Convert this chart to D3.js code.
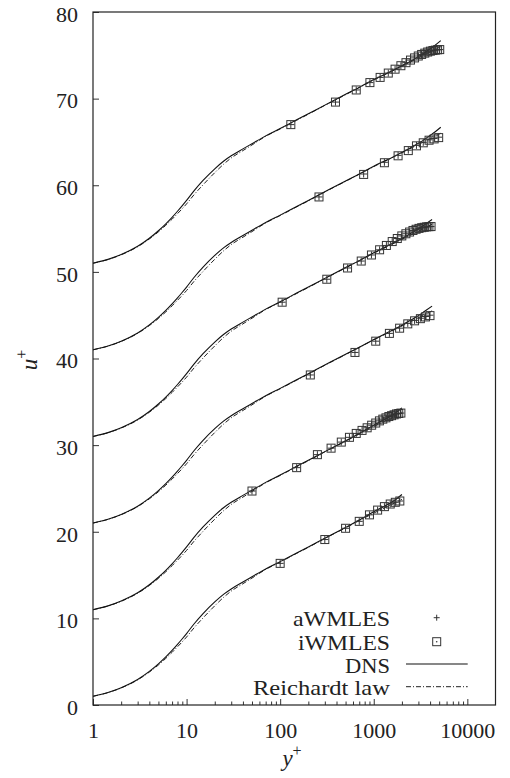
<!DOCTYPE html>
<html>
<head>
<meta charset="utf-8">
<script src="https://cdn.jsdelivr.net/npm/d3@7"></script>
<style>
  body { margin: 0; background: #fff; }
  svg text { font-family: "Liberation Serif", "Times New Roman", serif; fill: #222; }
</style>
</head>
<body>
<div id="d3"></div>
<script>
// shift added to u+ for each case (cases stacked from bottom to top)
const offsets = [0, 10, 20, 30, 40, 50];
const caseRe = [2000, 2000, 4200, 4200, 5200, 5200];

// DNS profiles, inner part shared, outer part per Re_tau
const dnsInnerY = [1, 1.5, 2, 3, 4, 5, 6, 7, 8, 9, 10, 12, 15, 20, 25, 30, 40, 50, 70, 100, 150, 200];
const dnsInnerU = [1.0, 1.5, 2.0, 2.95, 3.88, 4.75, 5.55, 6.3, 7.0, 7.65, 8.25, 9.35, 10.55, 11.9, 12.8, 13.4, 14.2, 14.8, 15.7, 16.55, 17.55, 18.25];
const dnsOuterY2000 = [300, 500, 700, 1000, 1300, 1600, 1800, 2000];
const dnsOuterU2000 = [19.25, 20.5, 21.35, 22.3, 22.95, 23.5, 23.9, 24.3];
const dnsOuterY4200 = [300, 500, 700, 1000, 1500, 2000, 2500, 3000, 3500, 4200];
const dnsOuterU4200 = [19.25, 20.5, 21.3, 22.2, 23.15, 23.85, 24.45, 24.95, 25.45, 26.05];
const dnsOuterY5200 = [300, 500, 700, 1000, 1500, 2000, 2500, 3000, 3500, 4000, 4500, 5200];
const dnsOuterU5200 = [19.25, 20.5, 21.3, 22.2, 23.1, 23.8, 24.35, 24.85, 25.3, 25.75, 26.15, 26.7];

// Reichardt law
const reiY = [1, 1.5, 2, 3, 4, 5, 6, 7, 8, 9, 10, 12, 15, 20, 25, 30, 40, 50, 70, 100, 150, 200, 300, 500, 700, 1000, 1500, 2000, 3000, 4200, 5200];
const reiU = [1.0, 1.48, 1.97, 2.9, 3.8, 4.62, 5.38, 6.08, 6.72, 7.3, 7.85, 8.9, 10.05, 11.45, 12.45, 13.15, 14.0, 14.65, 15.65, 16.5, 17.5, 18.2, 19.22, 20.45, 21.28, 22.15, 23.08, 23.75, 24.7, 25.5, 26.0];

// wall-modelled LES points (y+ and u+ without the shift)
const lesY0 = [100, 300, 500, 700, 900, 1100, 1300, 1500, 1700, 1900];
const aW0 = [16.35, 19.1, 20.4, 21.2, 21.95, 22.5, 22.9, 23.2, 23.4, 23.55];
const iW0 = [16.35, 19.1, 20.4, 21.2, 21.95, 22.5, 22.9, 23.2, 23.4, 23.55];

const lesY1 = [50, 150, 250, 350, 450, 550, 650, 750, 850, 950, 1050, 1150, 1250, 1350, 1450, 1550, 1650, 1750, 1850, 1950];
const aW1 = [14.7, 17.4, 18.9, 19.65, 20.35, 20.9, 21.35, 21.7, 22.0, 22.3, 22.55, 22.8, 23.0, 23.15, 23.3, 23.4, 23.5, 23.6, 23.65, 23.7];
const iW1 = [14.7, 17.4, 18.9, 19.65, 20.35, 20.9, 21.35, 21.7, 22.0, 22.3, 22.55, 22.8, 23.0, 23.15, 23.3, 23.4, 23.5, 23.6, 23.65, 23.7];

const lesY2 = [210, 630, 1050, 1470, 1890, 2310, 2730, 3150, 3570, 3990];
const aW2 = [18.1, 20.7, 22.0, 22.9, 23.5, 24.05, 24.4, 24.65, 24.85, 25.0];
const iW2 = [18.1, 20.7, 22.0, 22.9, 23.5, 24.0, 24.35, 24.6, 24.8, 24.95];

const lesY3 = [105, 315, 525, 735, 945, 1155, 1365, 1575, 1785, 1995, 2205, 2415, 2625, 2835, 3045, 3255, 3465, 3675, 3885, 4095];
const aW3 = [16.5, 19.15, 20.45, 21.25, 21.95, 22.55, 23.05, 23.5, 23.85, 24.15, 24.4, 24.6, 24.78, 24.92, 25.02, 25.1, 25.15, 25.2, 25.22, 25.23];
const iW3 = [16.5, 19.15, 20.45, 21.25, 21.95, 22.55, 23.05, 23.5, 23.85, 24.15, 24.4, 24.6, 24.78, 24.92, 25.02, 25.1, 25.15, 25.2, 25.22, 25.23];

const lesY4 = [260, 780, 1300, 1820, 2340, 2860, 3380, 3900, 4420, 4940];
const aW4 = [18.65, 21.3, 22.65, 23.45, 24.05, 24.6, 24.95, 25.25, 25.4, 25.55];
const iW4 = [18.65, 21.25, 22.6, 23.4, 24.0, 24.55, 24.9, 25.2, 25.35, 25.5];

const lesY5 = [130, 390, 650, 910, 1170, 1430, 1690, 1950, 2210, 2470, 2730, 2990, 3250, 3510, 3770, 4030, 4290, 4550, 4810, 5070];
const aW5 = [17.0, 19.6, 21.0, 21.85, 22.45, 22.95, 23.4, 23.8, 24.15, 24.45, 24.7, 24.92, 25.1, 25.25, 25.38, 25.48, 25.55, 25.6, 25.64, 25.66];
const iW5 = [17.0, 19.6, 21.0, 21.85, 22.45, 22.95, 23.4, 23.8, 24.15, 24.45, 24.7, 24.92, 25.1, 25.25, 25.38, 25.48, 25.55, 25.6, 25.64, 25.66];

const xTicks = [1, 10, 100, 1000, 10000];
const yTicks = [0, 10, 20, 30, 40, 50, 60, 70, 80];
const legendNames = ["aWMLES", "iWMLES", "DNS", "Reichardt law"];


const dnsOuter = {
    2000: [dnsOuterY2000, dnsOuterU2000],
    4200: [dnsOuterY4200, dnsOuterU4200],
    5200: [dnsOuterY5200, dnsOuterU5200]
};
const lesCases = [[lesY0, aW0, iW0], [lesY1, aW1, iW1], [lesY2, aW2, iW2],
                  [lesY3, aW3, iW3], [lesY4, aW4, iW4], [lesY5, aW5, iW5]];

const zip = (a, b) => a.map((v, i) => [v, b[i]]);

function drawChart() {
    const svg = d3.select("#d3")
        .append("svg")
        .attr("width", 510)
        .attr("height", 778)
        .attr("font-family", "Liberation Serif, serif");

    const x = d3.scaleLog().domain([1, 20000]).range([93, 495.5]);
    const y = d3.scaleLinear().domain([0, 80]).range([705, 12]);

    // bottom axis, ticks pointing inwards
    const minor = [];
    for (let p = 1; p <= 1000; p *= 10) for (let m = 2; m <= 9; m++) minor.push(m * p);

    svg.append("g")
        .attr("transform", "translate(0,705)")
        .call(d3.axisBottom(x).tickValues(minor).tickSize(-3.5).tickFormat(""))
        .call(g => g.select(".domain").remove())
        .call(g => g.selectAll("line").attr("stroke", "#333"));

    svg.append("g")
        .attr("transform", "translate(0,705)")
        .call(d3.axisBottom(x).tickValues(xTicks).tickSize(-6).tickPadding(17).tickFormat(d3.format("d")))
        .attr("font-family", null)
        .call(g => g.select(".domain").remove())
        .call(g => g.selectAll("line").attr("stroke", "#333"))
        .call(g => g.selectAll("text").attr("font-size", 22).style("fill", "#222"));

    svg.append("g")
        .attr("transform", "translate(93,0)")
        .call(d3.axisLeft(y).tickValues(yTicks).tickSize(-6).tickPadding(15))
        .attr("font-family", null)
        .call(g => g.select(".domain").remove())
        .call(g => g.selectAll("line").attr("stroke", "#333"))
        .call(g => g.selectAll("text").attr("font-size", 22)
            .attr("dy", "0.42em").style("fill", "#222"));

    // axis titles
    const xt = svg.append("text").attr("x", 292).attr("y", 766).attr("text-anchor", "middle")
        .attr("font-size", 23);
    xt.append("tspan").attr("font-style", "italic").text("y");
    xt.append("tspan").attr("font-size", 16).attr("dy", -10).text("+");

    const yt = svg.append("text").attr("transform", "translate(37,360) rotate(-90)")
        .attr("text-anchor", "middle").attr("font-size", 23);
    yt.append("tspan").attr("font-style", "italic").text("u");
    yt.append("tspan").attr("font-size", 16).attr("dy", -10).text("+");

    const plot = svg.append("g");

    offsets.forEach((off, k) => {
        const line = d3.line()
            .x(d => x(d[0]))
            .y(d => y(d[1] + off))
            .curve(d3.curveMonotoneX);

        const re = caseRe[k];
        const dns = zip(dnsInnerY.concat(dnsOuter[re][0]), dnsInnerU.concat(dnsOuter[re][1]));
        const rei = zip(reiY, reiU).filter(d => d[0] <= re);

        plot.append("path")
            .attr("d", line(rei))
            .attr("fill", "none")
            .attr("stroke", "#222")
            .attr("stroke-width", 1)
            .attr("stroke-dasharray", "5,2,1,2");

        plot.append("path")
            .attr("d", line(dns))
            .attr("fill", "none")
            .attr("stroke", "#111")
            .attr("stroke-width", 1.1);

        const [ly, aw, iw] = lesCases[k];

        plot.append("g").selectAll("path")
            .data(zip(ly, aw))
            .join("path")
            .attr("d", d => {
                const cx = x(d[0]), cy = y(d[1] + off);
                return `M${cx - 3.5},${cy}H${cx + 3.5}M${cx},${cy - 3.5}V${cy + 3.5}`;
            })
            .attr("stroke", "#333")
            .attr("stroke-width", 1);

        plot.append("g").selectAll("rect")
            .data(zip(ly, iw))
            .join("rect")
            .attr("x", d => x(d[0]) - 4)
            .attr("y", d => y(d[1] + off) - 4)
            .attr("width", 8)
            .attr("height", 8)
            .attr("fill", "none")
            .attr("stroke", "#333")
            .attr("stroke-width", 1);
    });

    // frame
    svg.append("rect")
        .attr("x", 93).attr("y", 12)
        .attr("width", 402.5).attr("height", 693)
        .attr("fill", "none")
        .attr("stroke", "#222")
        .attr("stroke-width", 1.2);

    // legend
    const rows = [617.7, 641.7, 664, 686.7];
    const textWidths = [97, 92, 45, 137];
    const leg = svg.append("g");
    legendNames.forEach((name, i) => {
        leg.append("text")
            .attr("x", 390).attr("y", rows[i] + 8.5)
            .attr("text-anchor", "end")
            .attr("font-size", 22)
            .attr("textLength", textWidths[i])
            .attr("lengthAdjust", "spacingAndGlyphs")
            .text(name);
    });
    const mx = 436.7;
    leg.append("path")
        .attr("d", `M${mx - 3},${rows[0]}H${mx + 3}M${mx},${rows[0] - 3}V${rows[0] + 3}`)
        .attr("stroke", "#333");
    leg.append("rect")
        .attr("x", mx - 4).attr("y", rows[1] - 4).attr("width", 8).attr("height", 8)
        .attr("fill", "none").attr("stroke", "#333");
    leg.append("circle").attr("cx", mx).attr("cy", rows[1]).attr("r", 0.8).attr("fill", "#333");
    leg.append("line")
        .attr("x1", 406).attr("x2", 467.7).attr("y1", rows[2]).attr("y2", rows[2])
        .attr("stroke", "#111").attr("stroke-width", 1.1);
    leg.append("line")
        .attr("x1", 406).attr("x2", 467.7).attr("y1", rows[3]).attr("y2", rows[3])
        .attr("stroke", "#222").attr("stroke-dasharray", "5,2,1,2");
}

drawChart();
</script>
</body>
</html>
